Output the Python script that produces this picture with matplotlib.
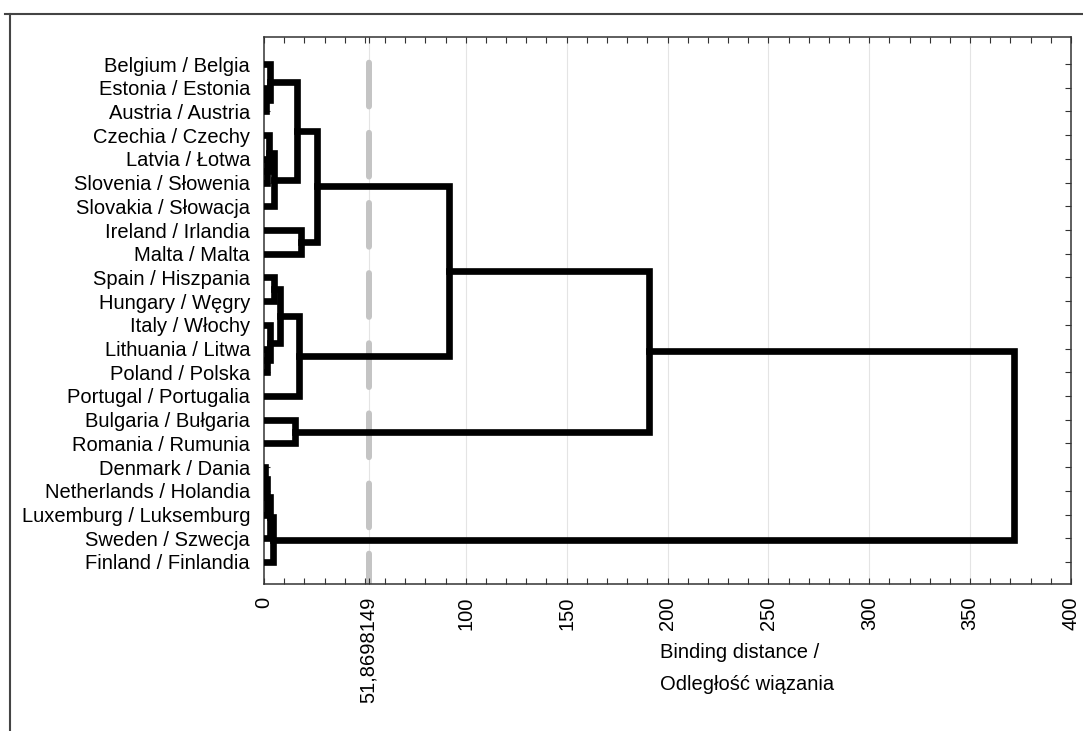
import matplotlib
matplotlib.use("Agg")
import matplotlib.pyplot as plt
from matplotlib.lines import Line2D

plt.rcParams['font.family'] = ['Liberation Sans', 'DejaVu Sans']
plt.rcParams['lines.scale_dashes'] = False

# ---- data ----
countries = [
    "Belgium / Belgia", "Estonia / Estonia", "Austria / Austria",
    "Czechia / Czechy", "Latvia / Łotwa", "Slovenia / Słowenia",
    "Slovakia / Słowacja", "Ireland / Irlandia", "Malta / Malta",
    "Spain / Hiszpania", "Hungary / Węgry", "Italy / Włochy",
    "Lithuania / Litwa", "Poland / Polska", "Portugal / Portugalia",
    "Bulgaria / Bułgaria", "Romania / Rumunia", "Denmark / Dania",
    "Netherlands / Holandia", "Luxemburg / Luksemburg",
    "Sweden / Szwecja", "Finland / Finlandia",
]
# merges: node ids 0..21 are leaves, each merge creates node 22, 23, ...
merge_left = [1, 0, 4, 3, 25, 23, 7, 27, 9, 12, 11, 30, 33, 15, 29, 36, 17, 38, 39, 40, 37]
merge_right = [2, 22, 5, 24, 6, 26, 8, 28, 10, 13, 31, 32, 14, 16, 34, 35, 18, 19, 20, 21, 41]
merge_height = [1.0, 3.0, 1.5, 2.5, 5.0, 16.6, 18.4, 26.4, 5.0, 1.5, 3.0, 8.0,
                17.5, 15.6, 91.7, 190.8, 0.5, 1.5, 3.0, 4.5, 371.7]
cut_distance = 51.8698149
x_ticks = [0, cut_distance, 100, 150, 200, 250, 300, 350, 400]
x_tick_labels = ["0", "51,8698149", "100", "150", "200", "250", "300", "350", "400"]
xlabel_lines = ["Binding distance /", "Odległość wiązania"]

# ---- figure ----
W, H = 1083, 731
fig = plt.figure(figsize=(W / 100, H / 100), dpi=100)
ax = fig.add_axes([264 / W, 1 - 584 / H, (1071 - 264) / W, (584 - 37) / H])

n = len(countries)
ypos = {i: float(i) for i in range(n)}
hgt = {i: 0.0 for i in range(n)}

ylo, yhi = n - 1 + 0.93, -1.14
ax.set_xlim(0, 400)
ax.set_ylim(ylo, yhi)

# grid
for t in x_ticks[1:-1]:
    ax.axvline(t, color="#e4e4e4", lw=0.8, zorder=0)

# cut line (dash lengths in points: ~44px dash, ~26px gap)
ax.plot([cut_distance, cut_distance], [yhi, ylo], color="#c4c4c4",
        lw=4.3, linestyle=(32.0, (31.5, 19.0)), dash_capstyle="round", zorder=1)

# dendrogram
lw = 4.8
for k, (a, b, h) in enumerate(zip(merge_left, merge_right, merge_height)):
    node = n + k
    xa, xb = hgt[a], hgt[b]
    ya, yb = ypos[a], ypos[b]
    ax.plot([xa, h, h, xb], [ya, ya, yb, yb], color="black", lw=lw,
            solid_joinstyle="miter", solid_capstyle="projecting", zorder=3)
    ypos[node] = (ya + yb) / 2
    hgt[node] = h

fs = 14.5
# ticks
ax.set_yticks(range(n))
ax.set_yticklabels(countries, fontsize=fs)
ax.set_xticks(x_ticks)
ax.set_xticklabels(x_tick_labels, rotation=90, fontsize=fs)
ax.set_xticks(range(0, 401, 10), minor=True)
ax.tick_params(axis="both", which="both", direction="in", top=True, right=True,
               color="#333333", width=0.8)
ax.tick_params(axis="x", which="major", length=4, pad=9)
ax.tick_params(axis="x", which="minor", length=4)
ax.tick_params(axis="y", which="major", length=4, pad=10)
ax.tick_params(axis="y", which="minor", left=False, right=False)
for s in ax.spines.values():
    s.set_color("#333333")
    s.set_linewidth(1.1)

# x label
fig.text(660 / W, 1 - 652 / H, xlabel_lines[0], fontsize=fs, ha="left", va="center")
fig.text(660 / W, 1 - 684 / H, xlabel_lines[1], fontsize=fs, ha="left", va="center")

# outer frame
fig.add_artist(Line2D([5 / W, 1.0], [1 - 14 / H, 1 - 14 / H], color="#444444", lw=1.5,
                      transform=fig.transFigure))
fig.add_artist(Line2D([10 / W, 10 / W], [1 - 14 / H, 0.0], color="#444444", lw=1.5,
                      transform=fig.transFigure))

fig.savefig("out.png", dpi=100)
